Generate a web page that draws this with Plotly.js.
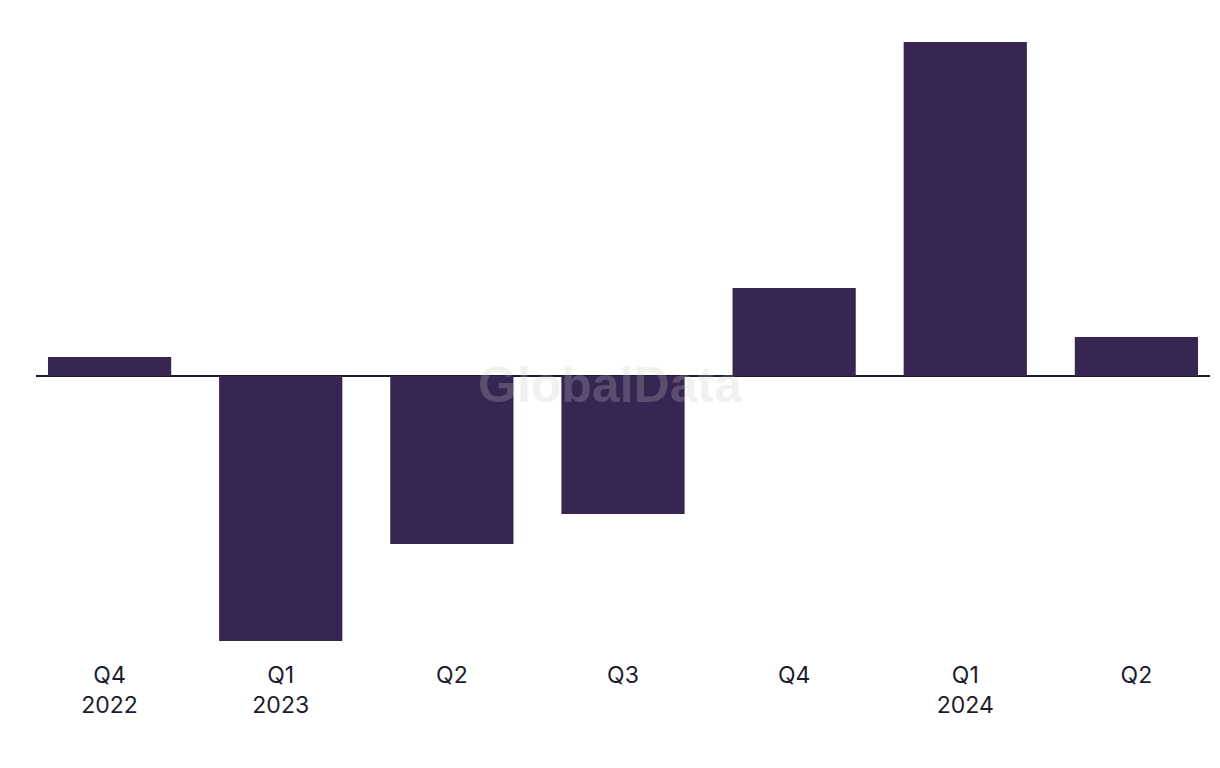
<!DOCTYPE html>
<html>
<head>
<meta charset="utf-8">
<script src="https://cdn.plot.ly/plotly-3.0.1.min.js"></script>
<style>html,body{margin:0;padding:0;background:#fff;}#chart{width:1220px;height:768px;}</style>
</head>
<body>
<div id="chart"></div>
<script>
const quarters = ["Q4", "Q1", "Q2", "Q3", "Q4", "Q1", "Q2"];
const years = ["2022", "2023", "", "", "", "2024", ""];
const values = [1.9, -26.5, -16.8, -13.8, 8.8, 33.4, 3.9];

const labels = quarters.map((q, i) => years[i] ? q + "<br>" + years[i] : q);
const xs = quarters.map((q, i) => i);

const trace = {
  type: "bar",
  x: xs,
  y: values,
  width: 0.72,
  marker: {color: "#372552"},
  hoverinfo: "skip"
};

const layout = {
  width: 1220,
  height: 768,
  margin: {l: 36, r: 10, t: 30, b: 118},
  paper_bgcolor: "#ffffff",
  plot_bgcolor: "#ffffff",
  showlegend: false,
  font: {family: "Inter, 'Liberation Sans', sans-serif", color: "#1c1c2e"},
  xaxis: {
    range: [-0.43, 6.43],
    tickmode: "array",
    tickvals: xs,
    ticktext: labels,
    showgrid: false,
    zeroline: false,
    showline: false,
    ticks: "",
    ticklabelstandoff: 9,
    tickfont: {size: 23, color: "#1c1c2e", family: "Inter, sans-serif"},
    fixedrange: true
  },
  yaxis: {
    range: [-27.4, 34.6],
    showgrid: false,
    showticklabels: false,
    zeroline: true,
    zerolinecolor: "#1c1c2e",
    zerolinewidth: 2,
    showline: false,
    ticks: "",
    fixedrange: true
  },
  annotations: [{
    text: "GlobalData",
    xref: "paper", yref: "paper",
    x: (610 - 36) / 1174, y: (650 - 385) / 620,
    xanchor: "center", yanchor: "middle",
    showarrow: false,
    font: {family: "'Liberation Sans', Arial, sans-serif", size: 50, color: "rgba(200,200,200,0.25)", weight: "bold"}
  }]
};

Plotly.newPlot("chart", [trace], layout, {displayModeBar: false, staticPlot: true});
</script>
</body>
</html>
